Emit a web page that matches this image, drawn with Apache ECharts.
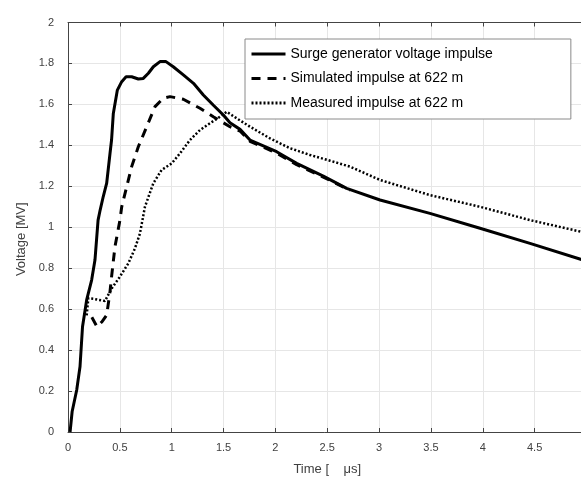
<!DOCTYPE html>
<html><head><meta charset="utf-8">
<script src="https://cdn.jsdelivr.net/npm/echarts@6/dist/echarts.min.js"></script>
<style>html,body{margin:0;padding:0;background:#fff}#c{width:581px;height:479px}</style>
</head><body><div id="c"></div>
<script>
var seriesNames = ['Surge generator voltage impulse','Simulated impulse at 622 m','Measured impulse at 622 m'];
var surgeT = [0.02,0.04,0.084,0.116,0.14,0.18,0.228,0.26,0.29,0.31,0.34,0.373,0.405,0.42,0.437,0.476,0.518,0.56,0.614,0.678,0.726,0.775,0.823,0.887,0.945,1.015,1.112,1.21,1.305,1.40,1.498,1.562,1.659,1.755,2.012,2.205,2.462,2.687,3.009,3.49,3.973,4.455,5.0];
var surgeV = [0,0.1,0.205,0.32,0.514,0.645,0.742,0.84,1.035,1.084,1.15,1.215,1.36,1.426,1.556,1.67,1.711,1.735,1.735,1.724,1.727,1.752,1.784,1.809,1.809,1.784,1.744,1.703,1.646,1.597,1.548,1.51,1.478,1.426,1.369,1.312,1.25,1.19,1.133,1.068,0.995,0.921,0.835];
var simT = [0.23,0.28,0.33,0.373,0.405,0.42,0.453,0.501,0.518,0.566,0.614,0.678,0.759,0.839,0.919,0.984,1.112,1.273,1.401,1.562,1.659,1.755,2.012,2.205,2.462,2.72];
var simV = [0.56,0.514,0.54,0.571,0.685,0.758,0.905,1.035,1.1,1.198,1.296,1.393,1.491,1.589,1.63,1.638,1.625,1.581,1.54,1.491,1.47,1.42,1.362,1.306,1.245,1.18];
var measT = [0.18,0.196,0.25,0.3,0.357,0.42,0.50,0.582,0.646,0.694,0.742,0.823,0.903,1.0,1.08,1.176,1.273,1.369,1.466,1.53,1.627,1.755,1.948,2.141,2.334,2.527,2.72,3.009,3.49,3.973,4.455,5.0];
var measV = [0.57,0.653,0.65,0.645,0.64,0.70,0.758,0.824,0.897,0.97,1.1,1.215,1.28,1.312,1.361,1.426,1.475,1.508,1.54,1.564,1.532,1.491,1.434,1.386,1.353,1.325,1.296,1.231,1.157,1.1,1.035,0.972];
var xTicks = ['0','0.5','1','1.5','2','2.5','3','3.5','4','4.5'];
var yTicks = ['0','0.2','0.4','0.6','0.8','1','1.2','1.4','1.6','1.8','2'];

function pairs(t, v){ return t.map(function(x,i){ return [x, v[i]]; }); }

var chart = echarts.init(document.getElementById('c'), null, {renderer:'canvas'});
var axisColor = '#444';
var ff = 'Liberation Sans, Arial, sans-serif';
var labelFont = {color:'#404040', fontSize:11, fontFamily:ff};
chart.setOption({
  animation:false,
  backgroundColor:'#fff',
  grid:{left:68, top:22.5, width:518.5, height:409.5, containLabel:false, outerBoundsMode:'none'},
  legend:{
    left:245, top:39, orient:'vertical',
    backgroundColor:'#fff', borderColor:'#8a8a8a', borderWidth:1,
    padding:[8,78,9,5], itemGap:10.5, itemWidth:34, itemHeight:14,
    itemStyle:{opacity:0},
    lineStyle:{width:3},
    textStyle:{color:'#000', fontSize:14, fontFamily:ff},
    data: seriesNames
  },
  xAxis:[{
    type:'value', min:0, max:5, interval:0.5, position:'bottom',
    name:'Time [    μs]', nameLocation:'middle', nameGap:31,
    nameTextStyle:{color:'#404040', fontSize:13, fontFamily:ff},
    axisLine:{show:true, onZero:false, lineStyle:{color:axisColor, width:1}},
    axisTick:{show:true, inside:true, length:4, lineStyle:{color:axisColor}},
    axisLabel:Object.assign({margin:10, formatter:function(v){ var s=String(Math.round(v*10)/10); return xTicks.indexOf(s)>=0 ? s : ''; }}, labelFont),
    splitLine:{show:true, lineStyle:{color:'#e6e6e6', width:1}}
  },{
    type:'value', min:0, max:5, interval:0.5, position:'top',
    axisLine:{show:true, onZero:false, lineStyle:{color:axisColor, width:1}},
    axisTick:{show:true, inside:true, length:4, lineStyle:{color:axisColor}},
    axisLabel:{show:false}, splitLine:{show:false}
  }],
  yAxis:{
    type:'value', min:0, max:2, interval:0.2,
    name:'Voltage [MV]', nameLocation:'middle', nameGap:38,
    nameTextStyle:{color:'#404040', fontSize:13, fontFamily:ff, padding:[0,24,0,0]},
    axisLine:{show:true, onZero:false, lineStyle:{color:axisColor, width:1}},
    axisTick:{show:true, inside:true, length:4, lineStyle:{color:axisColor}},
    axisLabel:Object.assign({margin:14, formatter:function(v){ var s=String(Math.round(v*10)/10); return yTicks.indexOf(s)>=0 ? s : ''; }}, labelFont),
    splitLine:{show:true, lineStyle:{color:'#e6e6e6', width:1}}
  },
  series:[
    {name:seriesNames[0], type:'line', data:pairs(surgeT,surgeV), showSymbol:false, symbol:'none',
     lineStyle:{color:'#000', width:3, type:'solid'}, itemStyle:{color:'#000'}, z:3},
    {name:seriesNames[1], type:'line', data:pairs(simT,simV), showSymbol:false, symbol:'none',
     lineStyle:{color:'#000', width:3, type:[9,7]}, itemStyle:{color:'#000'}, z:2},
    {name:seriesNames[2], type:'line', data:pairs(measT,measV), showSymbol:false, symbol:'none',
     lineStyle:{color:'#000', width:2.5, type:[2,2]}, itemStyle:{color:'#000'}, z:2}
  ]
});
</script></body></html>
